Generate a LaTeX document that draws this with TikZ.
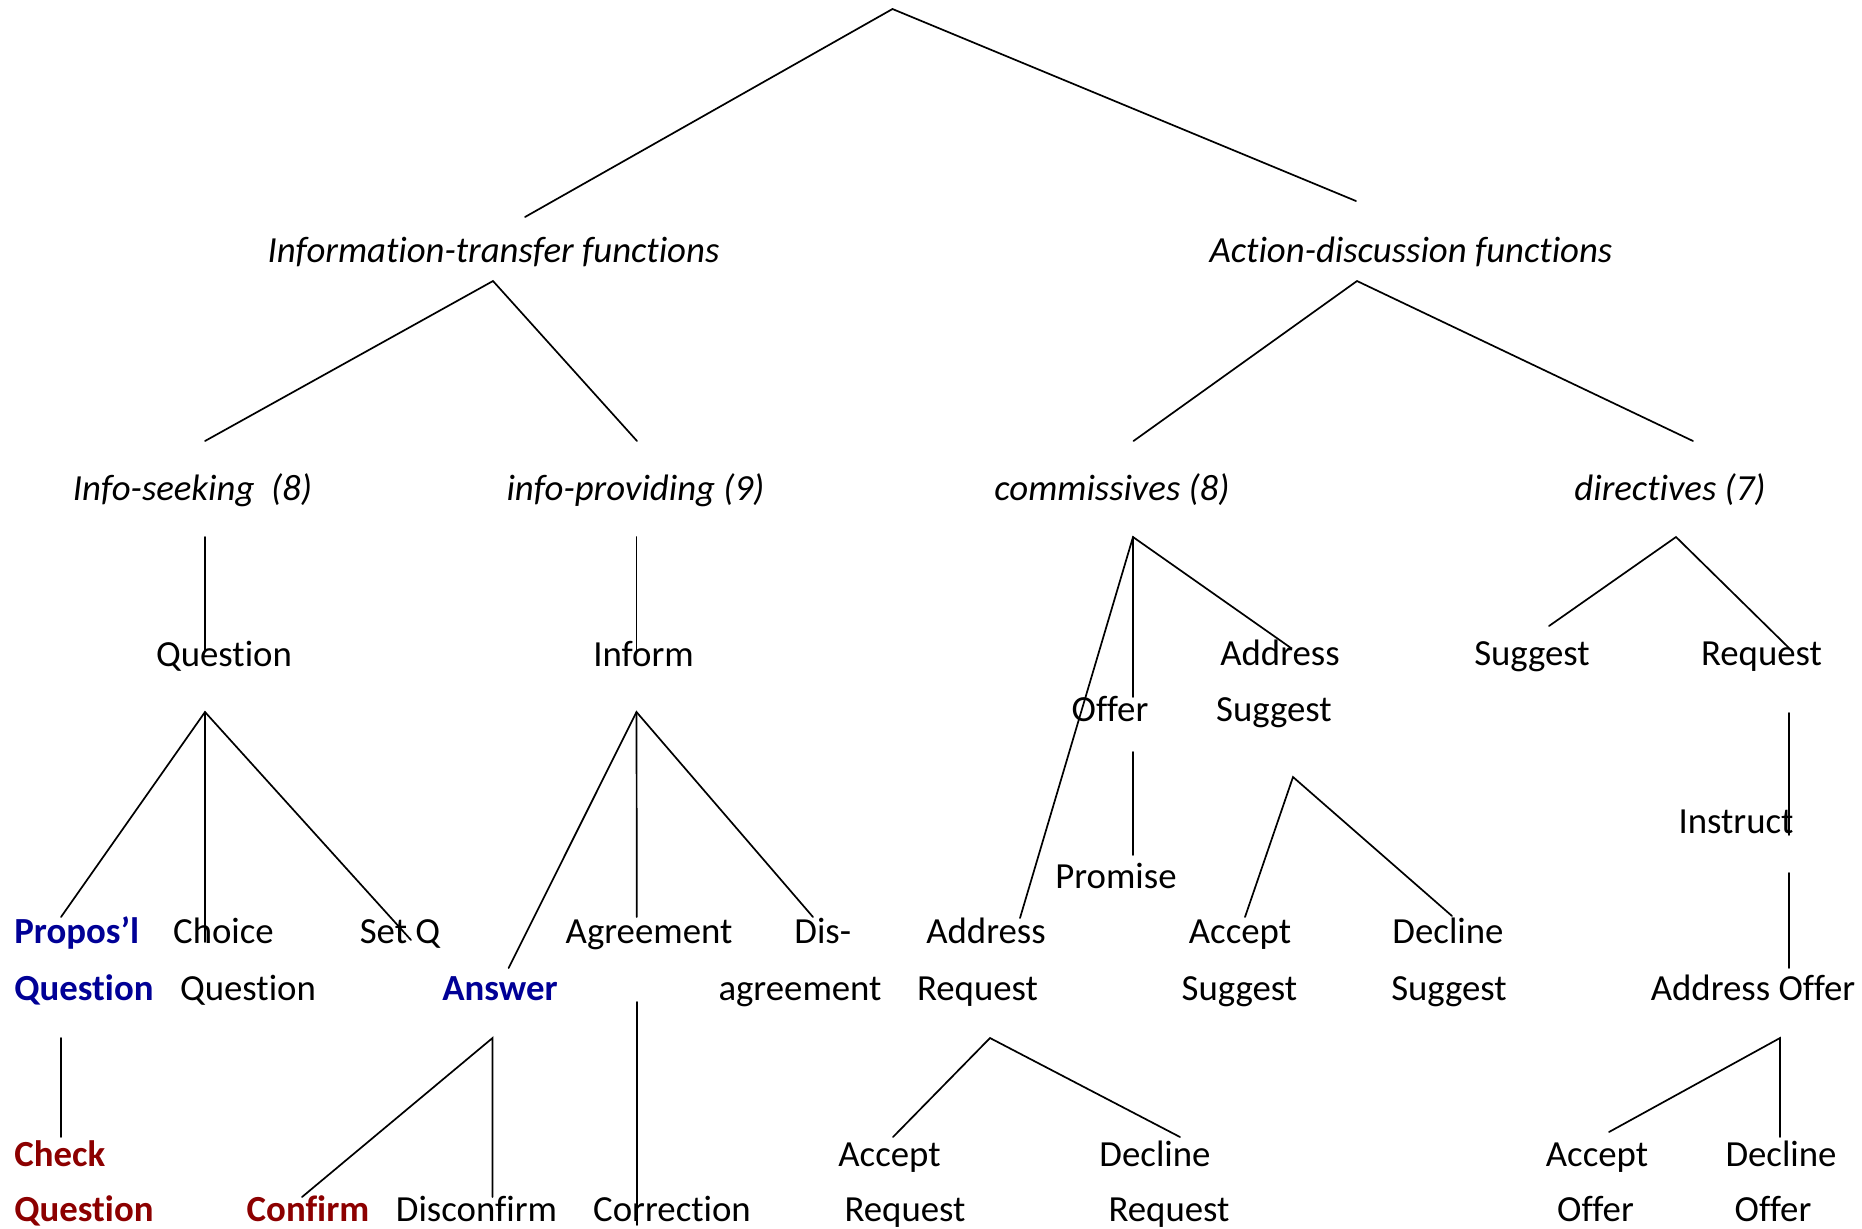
\documentclass[tikz,border=0pt]{standalone}
\usepackage{fontspec}
\setmainfont{Carlito}[Ligatures=NoCommon]
\definecolor{qblue}{RGB}{0,0,150}
\definecolor{qred}{RGB}{140,0,0}
\begin{document}
\begin{tikzpicture}[x=0.5pt,y=-0.5pt,
  every node/.style={inner sep=0pt, anchor=base, font=\fontsize{18.4}{22}\selectfont},
  lft/.style={anchor=base west},
  itl/.style={font=\fontsize{18.4}{22}\selectfont\itshape},
  bblue/.style={font=\fontsize{18.4}{22}\selectfont\bfseries, text=qblue},
  bred/.style={font=\fontsize{18.4}{22}\selectfont\bfseries, text=qred},
  link/.style={line width=0.85pt, line cap=round}]
\useasboundingbox (0,0) rectangle (1862,1228);

% ---- labels ----
\node[itl] (itf) at (493.5,262) {Information-transfer functions};
\node[itl] (adf) at (1411,262) {Action-discussion functions};
\node[itl] (iseek) at (192.5,500) {Info-seeking\ \ (8)};
\node[itl] (iprov) at (635.5,500) {info-providing (9)};
\node[itl] (comm) at (1112,500) {commissives (8)};
\node[itl] (dir) at (1670,500) {directives (7)};

\node (question) at (224,666) {Question};
\node (inform) at (643.5,666) {Inform};
\node (addsug1) at (1280,665) {Address};
\node (addsug2) at (1274,721) {Suggest};
\node (offer) at (1110,721) {Offer};
\node (suggest) at (1532,665) {Suggest};
\node (request) at (1761.5,665) {Request};
\node (promise) at (1116,888) {Promise};
\node (instruct) at (1736,833) {Instruct};

% row A/B
\node[bblue,lft] (propq1) at (14,943) {Propos’l};
\node[bblue,lft] (propq2) at (14,1000) {Question};
\node (choice1) at (223.5,943) {Choice};
\node (choice2) at (248,1000) {Question};
\node (setq) at (400,943) {Set Q};
\node[bblue] (answer) at (500,1000) {Answer};
\node (agree) at (649,943) {Agreement};
\node[lft] (dis1) at (794,943) {Dis-};
\node (dis2) at (800,1000) {agreement};
\node (addreq1) at (986,943) {Address};
\node (addreq2) at (977.5,1000) {Request};
\node (accsug1) at (1240,943) {Accept};
\node (accsug2) at (1239.5,1000) {Suggest};
\node (decsug1) at (1448,943) {Decline};
\node (decsug2) at (1449,1000) {Suggest};
\node (addoff) at (1753,1000) {Address Offer};

% row C/D
\node[bred,lft] (check1) at (14,1166) {Check};
\node[bred,lft] (check2) at (14,1221) {Question};
\node[bred] (confirm) at (308,1221) {Confirm};
\node (disconf) at (476.5,1221) {Disconfirm};
\node (correct) at (672,1221) {Correction};
\node (accreq1) at (889.5,1166) {Accept};
\node (accreq2) at (905,1221) {Request};
\node (decreq1) at (1155,1166) {Decline};
\node (decreq2) at (1169,1221) {Request};
\node (accoff1) at (1597,1166) {Accept};
\node (accoff2) at (1595.5,1221) {Offer};
\node (decoff1) at (1781,1166) {Decline};
\node (decoff2) at (1773,1221) {Offer};

% ---- connector points ----
\coordinate (root) at (892.5,9);
\coordinate (rootL) at (525,217);
\coordinate (rootR) at (1356,201);
\coordinate (itfA) at (493,281);
\coordinate (itfL) at (205,441);
\coordinate (itfR) at (637,441);
\coordinate (adfA) at (1357,281);
\coordinate (adfL) at (1133.5,441);
\coordinate (adfR) at (1693,441);
\coordinate (iseekA) at (205,537);
\coordinate (iseekB) at (205,650);
\coordinate (iprovA) at (636.5,537);
\coordinate (iprovB) at (636.5,650);
\coordinate (commA) at (1133,537);
\coordinate (commL) at (1020,918);
\coordinate (commM) at (1133,697);
\coordinate (commR) at (1291,648);
\coordinate (dirA) at (1676,537);
\coordinate (dirL) at (1549,626);
\coordinate (dirR) at (1789,648);
\coordinate (qA) at (205,712);
\coordinate (qL) at (61,917);
\coordinate (qM) at (205,942);
\coordinate (qR) at (411,940);
\coordinate (infA) at (636.5,712);
\coordinate (infL) at (508.6,968);
\coordinate (infM) at (636.8,917);
\coordinate (infR) at (813,917);
\coordinate (offA) at (1133,752);
\coordinate (offB) at (1133,855);
\coordinate (asA) at (1293,777);
\coordinate (asL) at (1245,917);
\coordinate (asR) at (1452,916);
\coordinate (reqA) at (1789,713);
\coordinate (reqB) at (1789,835);
\coordinate (insA) at (1789,873);
\coordinate (insB) at (1789,968);
\coordinate (pqA) at (61,1038);
\coordinate (pqB) at (61,1137);
\coordinate (ansA) at (492.5,1038);
\coordinate (ansL) at (302,1197);
\coordinate (ansR) at (492.5,1197);
\coordinate (corA) at (636.8,1002);
\coordinate (corB) at (636.8,1225);
\coordinate (arA) at (990,1038);
\coordinate (arL) at (893,1137);
\coordinate (arR) at (1180,1137);
\coordinate (aoA) at (1780,1038);
\coordinate (aoL) at (1609,1132);
\coordinate (aoR) at (1780,1137);

% ---- connectors ----
\draw[link] (rootL) -- (root) -- (rootR);
\draw[link] (itfL) -- (itfA) -- (itfR);
\draw[link] (adfL) -- (adfA) -- (adfR);
\draw[link] (iseekA) -- (iseekB);
\draw[link] (iprovA) -- (iprovB);
\draw[link] (commL) -- (commA) -- (commR);
\draw[link] (commA) -- (commM);
\draw[link] (dirL) -- (dirA) -- (dirR);
\draw[link] (qL) -- (qA) -- (qR);
\draw[link] (qA) -- (qM);
\draw[link] (infL) -- (infA) -- (infR);
\draw[link] (infA) -- (infM);
\draw[link] (offA) -- (offB);
\draw[link] (asL) -- (asA) -- (asR);
\draw[link] (reqA) -- (reqB);
\draw[link] (insA) -- (insB);
\draw[link] (pqA) -- (pqB);
\draw[link] (ansL) -- (ansA) -- (ansR);
\draw[link] (corA) -- (corB);
\draw[link] (arL) -- (arA) -- (arR);
\draw[link] (aoL) -- (aoA) -- (aoR);
\end{tikzpicture}
\end{document}
